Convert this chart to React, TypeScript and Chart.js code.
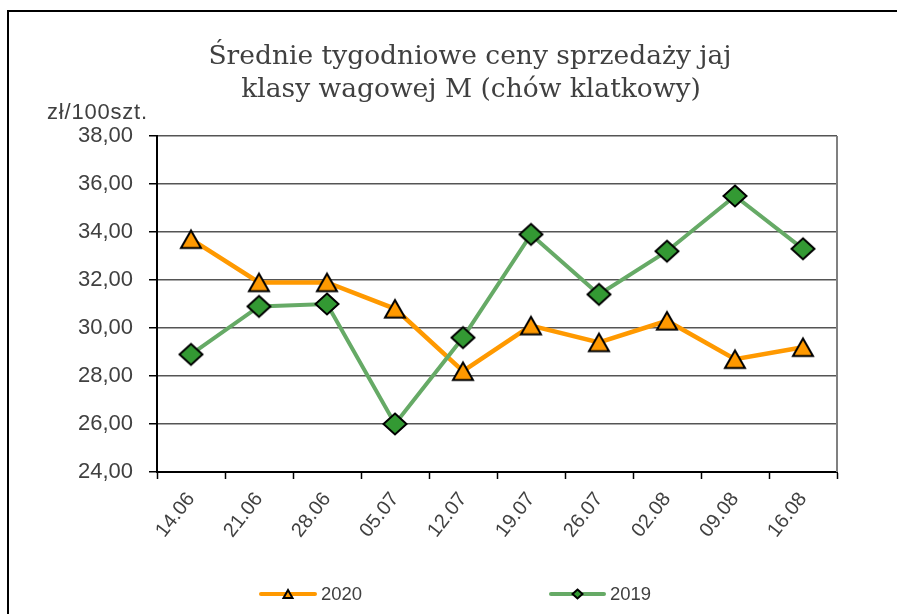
import React, { useEffect, useRef } from 'react';
import { Chart, registerables } from 'chart.js';

Chart.register(...registerables);

const categories = ['14.06', '21.06', '28.06', '05.07', '12.07', '19.07', '26.07', '02.08', '09.08', '16.08'];
const series2020 = [33.7, 31.9, 31.9, 30.8, 28.2, 30.1, 29.4, 30.3, 28.7, 29.2];
const series2019 = [28.9, 30.9, 31.0, 26.0, 29.6, 33.9, 31.4, 33.2, 35.5, 33.3];
const seriesNames = ['2020', '2019'];
const titleLines = ['Średnie tygodniowe ceny sprzedaży jaj', 'klasy wagowej M (chów klatkowy)'];
const unitLabel = 'zł/100szt.';
const yMin = 24;
const yMax = 38;
const yStep = 2;

const ORANGE = '#FF9900';
const GREEN_LINE = '#66AA66';
const GREEN_FILL = '#339933';
const TEXT = '#404040';

function drawTriangle(ctx: CanvasRenderingContext2D, cx: number, cy: number, w: number, h: number, fill: string, lw: number) {
  ctx.beginPath();
  ctx.moveTo(cx, cy - h / 2);
  ctx.lineTo(cx + w / 2, cy + h / 2);
  ctx.lineTo(cx - w / 2, cy + h / 2);
  ctx.closePath();
  ctx.fillStyle = fill;
  ctx.fill();
  ctx.lineWidth = lw;
  ctx.strokeStyle = '#000';
  ctx.lineJoin = 'miter';
  ctx.stroke();
}

function drawDiamond(ctx: CanvasRenderingContext2D, cx: number, cy: number, hw: number, hh: number, fill: string, lw: number) {
  ctx.beginPath();
  ctx.moveTo(cx, cy - hh);
  ctx.lineTo(cx + hw, cy);
  ctx.lineTo(cx, cy + hh);
  ctx.lineTo(cx - hw, cy);
  ctx.closePath();
  ctx.fillStyle = fill;
  ctx.fill();
  ctx.lineWidth = lw;
  ctx.strokeStyle = '#000';
  ctx.lineJoin = 'miter';
  ctx.stroke();
}

function makeTriangleMarker() {
  const c = document.createElement('canvas');
  c.width = 28;
  c.height = 26;
  const ctx = c.getContext('2d')!;
  drawTriangle(ctx, 14, 13, 20, 17.5, ORANGE, 2);
  return c;
}

function makeDiamondMarker() {
  const c = document.createElement('canvas');
  c.width = 30;
  c.height = 28;
  const ctx = c.getContext('2d')!;
  drawDiamond(ctx, 15, 14, 11.5, 10.5, GREEN_FILL, 2);
  return c;
}

const decorPlugin = {
  id: 'decor',
  beforeDraw(chart: any) {
    const ctx = chart.ctx as CanvasRenderingContext2D;
    ctx.save();
    ctx.fillStyle = '#fff';
    ctx.fillRect(0, 0, chart.width, chart.height);
    ctx.strokeStyle = '#000';
    ctx.lineWidth = 2;
    ctx.beginPath();
    ctx.moveTo(8, chart.height);
    ctx.lineTo(8, 11);
    ctx.lineTo(chart.width, 11);
    ctx.stroke();
    ctx.restore();
  },
  beforeDatasetsDraw(chart: any) {
    const ctx = chart.ctx as CanvasRenderingContext2D;
    const a = chart.chartArea;
    ctx.save();
    ctx.strokeStyle = '#808080';
    ctx.lineWidth = 2;
    ctx.beginPath();
    ctx.moveTo(a.right, a.top);
    ctx.lineTo(a.right, a.bottom);
    ctx.stroke();
    ctx.restore();
  },
  afterDraw(chart: any) {
    const ctx = chart.ctx as CanvasRenderingContext2D;
    ctx.save();
    // title
    ctx.fillStyle = TEXT;
    ctx.textAlign = 'center';
    ctx.textBaseline = 'alphabetic';
    ctx.font = '26.5px "DejaVu Serif"';
    ctx.fillText(titleLines[0], 470, 64);
    ctx.fillText(titleLines[1], 471, 97);
    // unit label
    ctx.textAlign = 'left';
    ctx.font = '22px "Liberation Sans", Arial, sans-serif';
    (ctx as any).letterSpacing = '0.8px';
    ctx.fillText(unitLabel, 47, 119);
    (ctx as any).letterSpacing = '0px';
    // legend
    const ly = 594;
    const items = [
      { x1: 261, x2: 315, name: seriesNames[0], color: ORANGE, type: 'tri' },
      { x1: 551, x2: 604, name: seriesNames[1], color: GREEN_LINE, type: 'dia' },
    ];
    for (const it of items) {
      ctx.strokeStyle = it.color;
      ctx.lineWidth = 4;
      ctx.lineCap = 'round';
      ctx.beginPath();
      ctx.moveTo(it.x1, ly);
      ctx.lineTo(it.x2, ly);
      ctx.stroke();
      ctx.lineCap = 'butt';
      const mx = (it.x1 + it.x2) / 2;
      if (it.type === 'tri') drawTriangle(ctx, mx, ly, 9, 8, ORANGE, 2);
      else drawDiamond(ctx, mx, ly, 5, 4.5, GREEN_FILL, 2);
      ctx.fillStyle = TEXT;
      ctx.font = '18.5px "Liberation Sans", Arial, sans-serif';
      ctx.textAlign = 'left';
      ctx.fillText(it.name, it.x2 + 6, 600);
    }
    ctx.restore();
  },
};

export default function App() {
  const ref = useRef<HTMLCanvasElement | null>(null);

  useEffect(() => {
    if (!ref.current) return;
    const tri = makeTriangleMarker();
    const dia = makeDiamondMarker();
    const chart = new Chart(ref.current, {
      type: 'line',
      data: {
        labels: categories,
        datasets: [
          {
            label: seriesNames[0],
            data: series2020,
            borderColor: ORANGE,
            backgroundColor: ORANGE,
            borderWidth: 4.5,
            pointStyle: tri as any,
            pointRadius: 12,
            tension: 0,
            order: 1,
          },
          {
            label: seriesNames[1],
            data: series2019,
            borderColor: GREEN_LINE,
            backgroundColor: GREEN_FILL,
            borderWidth: 4,
            pointStyle: dia as any,
            pointRadius: 12,
            tension: 0,
            order: 0,
          },
        ],
      },
      options: {
        animation: false,
        responsive: false,
        maintainAspectRatio: false,
        events: [],
        layout: { padding: { top: 136, left: 0, right: 60, bottom: 52 } },
        plugins: {
          legend: { display: false },
          title: { display: false },
          tooltip: { enabled: false },
        },
        scales: {
          x: {
            type: 'category',
            offset: true,
            grid: {
              offset: true,
              drawOnChartArea: false,
              drawTicks: true,
              tickLength: 7,
              tickColor: '#000',
              tickWidth: 1.5,
            },
            border: { display: true, color: '#000', width: 2 },
            ticks: {
              autoSkip: false,
              minRotation: 52,
              maxRotation: 52,
              padding: 9,
              color: TEXT,
              font: { family: '"Liberation Sans", Arial, sans-serif', size: 20 },
            },
            afterFit(scale: any) {
              scale.height = 90;
              scale.paddingLeft = 0;
              scale.paddingRight = 0;
              scale.paddingTop = 0;
              scale.paddingBottom = 0;
            },
          },
          y: {
            min: yMin,
            max: yMax,
            grid: {
              color: '#555555',
              lineWidth: 1.5,
              drawTicks: true,
              tickLength: 8,
              tickColor: '#000',
              tickWidth: 1.5,
            },
            border: { display: true, color: '#000', width: 2 },
            ticks: {
              stepSize: yStep,
              padding: 16,
              color: TEXT,
              font: { family: '"Liberation Sans", Arial, sans-serif', size: 22 },
              callback: (v: any) => Number(v).toFixed(2).replace('.', ','),
            },
            afterFit(scale: any) {
              scale.width = 157;
              scale.paddingLeft = 0;
              scale.paddingRight = 0;
              scale.paddingTop = 0;
              scale.paddingBottom = 0;
            },
          },
        },
      },
      plugins: [decorPlugin],
    });
    return () => chart.destroy();
  }, []);

  return (
    <div style={{ position: 'absolute', left: 0, top: 0, width: 897, height: 614 }}>
      <canvas ref={ref} width={897} height={614} style={{ display: 'block', width: 897, height: 614 }} />
    </div>
  );
}
